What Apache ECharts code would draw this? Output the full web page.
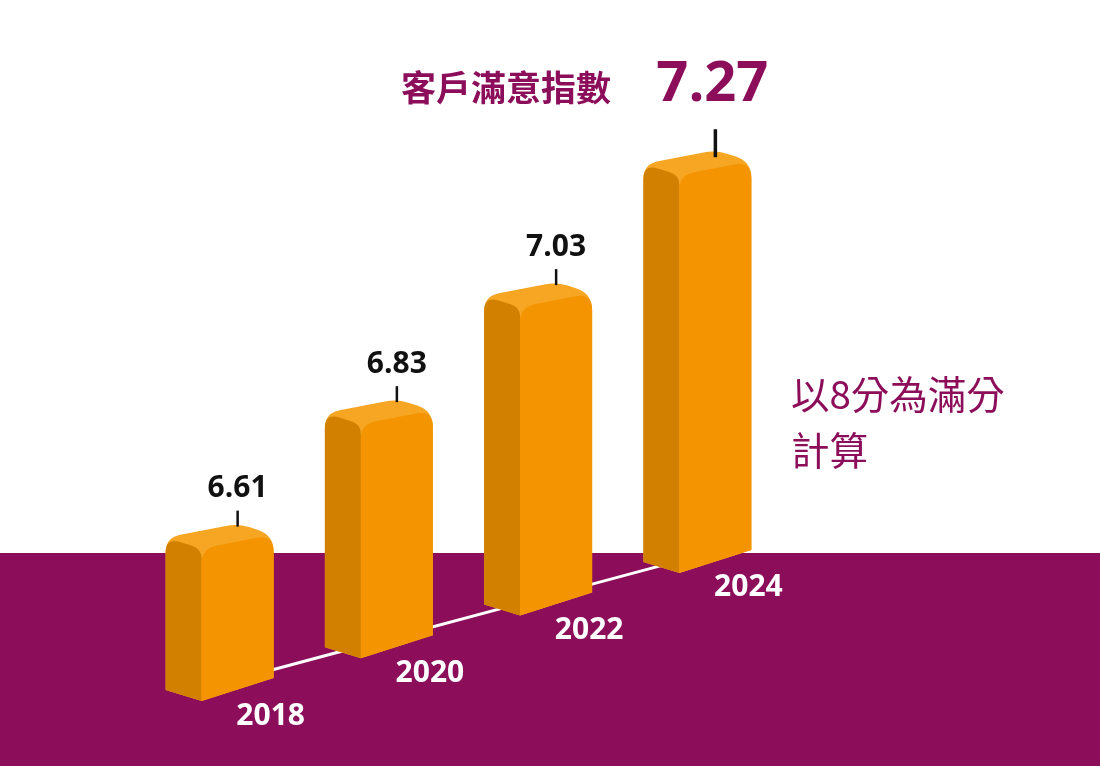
<!DOCTYPE html>
<html>
<head>
<meta charset="utf-8">
<title>客戶滿意指數</title>
<script src="https://cdn.jsdelivr.net/npm/echarts@6/dist/echarts.min.js"></script>
<style>
  html, body { margin: 0; padding: 0; background: #fff; }
  #chart { width: 1100px; height: 766px; }
</style>
</head>
<body>
<div id="chart"></div>
<script>
// 客戶滿意指數（以8分為滿分）
var years = ['2018', '2020', '2022', '2024'];
var scores = [6.61, 6.83, 7.03, 7.27];
var titleText = '客戶滿意指數';
var noteLines = ['以8分為滿分', '計算'];

var PURPLE = '#8c0e5a';
var BASE = 6.2;      // hidden axis floor
var SLANT = 42.7;    // each bar sits a bit higher (perspective floor)
var FRONT_W = 72, SIDE_W = 36, SIDE_DY = 11, BOT_DROP = 23, TOP_DROP = 14;
var NUM_FONT = '"Open Sans", "Noto Sans", sans-serif';
var CJK_FONT = '"Noto Sans CJK TC", "Noto Sans", sans-serif';

function toward(p, q, r) {
    var dx = q[0] - p[0], dy = q[1] - p[1];
    var len = Math.sqrt(dx * dx + dy * dy);
    return [p[0] + dx / len * r, p[1] + dy / len * r];
}

// polygon path with rounded corners (radius per corner)
function roundPoly(pts, radii) {
    var n = pts.length, d = '';
    for (var k = 0; k < n; k++) {
        var p = pts[k], r = radii[k];
        var cmd = k ? 'L' : 'M';
        if (!r) { d += cmd + p[0] + ' ' + p[1] + ' '; continue; }
        var a = toward(p, pts[(k - 1 + n) % n], r);
        var b = toward(p, pts[(k + 1) % n], r);
        d += cmd + a[0] + ' ' + a[1] + ' Q' + p[0] + ' ' + p[1] + ' ' + b[0] + ' ' + b[1] + ' ';
    }
    return d + 'Z';
}

function barGeom(api, i, v) {
    var top = api.coord([i, v]);
    var base = api.coord([i, BASE]);
    var lift = i * SLANT;
    var cx = top[0], yt = top[1] - lift, yb = base[1] - lift;
    var fx0 = cx - FRONT_W / 2, fx1 = cx + FRONT_W / 2;
    return { cx: cx, yt: yt, yb: yb, fx0: fx0, fx1: fx1 };
}

function renderBar(params, api) {
    var i = api.value(0), v = api.value(1);
    var g = barGeom(api, i, v);
    var FBL = [g.fx0, g.yb], FBR = [g.fx1, g.yb - BOT_DROP];
    var FL = [g.fx0, g.yt], FR = [g.fx1, g.yt - TOP_DROP];
    var SBL = [g.fx0 - SIDE_W, g.yb - SIDE_DY];
    var BL = [g.fx0 - SIDE_W, g.yt - SIDE_DY];
    var BR = [g.fx1 - SIDE_W, g.yt - TOP_DROP - SIDE_DY];
    var last = params.dataIndex === scores.length - 1;
    var children = [
        { type: 'path', shape: { pathData: roundPoly([SBL, BL, BR, FR, FBR, FBL], [0, 15, 12, 17, 0, 0]) },
          style: { fill: '#f6a623' } },
        { type: 'path', shape: { pathData: roundPoly([SBL, BL, FL, FBL], [0, 15, 10, 0]) },
          style: { fill: '#d18000' } },
        { type: 'path', shape: { pathData: roundPoly([FBL, FL, FR, FBR], [0, 15, 17, 0]) },
          style: { fill: '#f39400' } },
        { type: 'line',
          shape: { x1: g.cx, y1: g.yt - (last ? 46 : 38), x2: g.cx, y2: g.yt - (last ? 18 : 22) },
          style: { stroke: '#111', lineWidth: last ? 3.5 : 2.5 } },
        { type: 'text',
          style: { text: v.toFixed(2), x: last ? g.cx - 3 : g.cx, y: g.yt - (last ? 90 : 60),
                   align: 'center', verticalAlign: 'middle',
                   font: 'bold ' + (last ? 56 : 30) + 'px ' + NUM_FONT,
                   fill: last ? PURPLE : '#111' } },
        { type: 'text',
          style: { text: years[params.dataIndex], x: g.fx1 - 3, y: g.yb + 15,
                   align: 'center', verticalAlign: 'middle',
                   font: 'bold 30px ' + NUM_FONT, fill: '#fff' } }
    ];
    return { type: 'group', children: children };
}

// floor line through the bar footprints
function renderFloor(params, api) {
    var i = params.dataIndex;
    if (i >= scores.length - 1) return null;
    var a = barGeom(api, i, api.value(1));
    var b = barGeom(api, i + 1, scores[i + 1]);
    return {
        type: 'line',
        shape: { x1: a.cx - 18, y1: a.yb - 17, x2: b.cx - 18, y2: b.yb - 17 },
        style: { stroke: '#fff', lineWidth: 3 }
    };
}

var chart = echarts.init(document.getElementById('chart'));

var barData = scores.map(function (v, i) { return [i, v]; });

var option = {
    backgroundColor: '#fff',
    animation: false,
    grid: { left: 158, right: 305, top: 255, bottom: 65 },
    xAxis: { type: 'category', data: years, show: false },
    yAxis: { type: 'value', min: BASE, max: 7.4, show: false },
    graphic: [
        { type: 'rect', z: -10, shape: { x: 0, y: 553, width: 1100, height: 213 },
          style: { fill: PURPLE } },
        { type: 'text', left: 401, top: 70,
          style: { text: titleText, font: 'bold 35px ' + CJK_FONT, fill: PURPLE } },
        { type: 'text', left: 791, top: 366,
          style: { text: noteLines.join('\n'), font: '38.5px ' + CJK_FONT, lineHeight: 56, fill: PURPLE } }
    ],
    series: [
        { type: 'custom', renderItem: renderFloor, data: barData, clip: false, z: 1, silent: true },
        { type: 'custom', renderItem: renderBar, data: barData, clip: false, z: 2, silent: true }
    ]
};
chart.setOption(option);
</script>
</body>
</html>
